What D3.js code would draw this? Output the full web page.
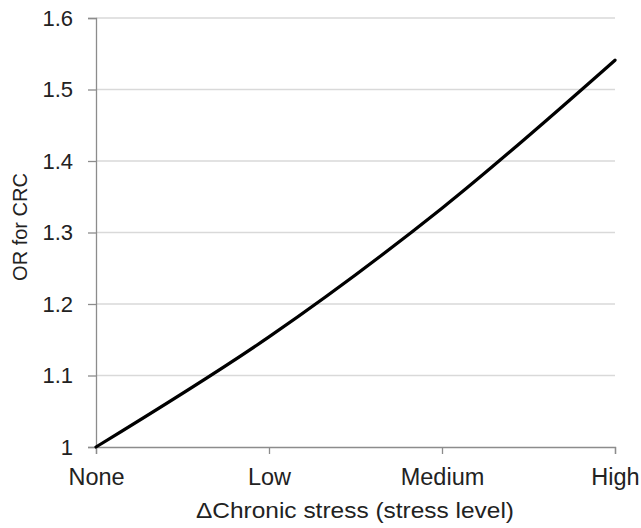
<!DOCTYPE html>
<html><head><meta charset="utf-8">
<script src="https://cdn.jsdelivr.net/npm/d3@7"></script>
<style>body{margin:0;background:#fff}svg{display:block}text{font-family:"Liberation Sans",Arial,sans-serif;fill:#222}</style>
</head><body>
<svg id="c" width="641" height="528"></svg>
<script>
const categories = ["None", "Low", "Medium", "High"];
const orValues = [1.0, 1.154, 1.334, 1.541];
const yTicks = [1, 1.1, 1.2, 1.3, 1.4, 1.5, 1.6];
const xTitle = "\u0394Chronic stress (stress level)";
const yTitle = "OR for CRC";

const svg = d3.select("#c");
const m = {left: 96, right: 26, top: 18, bottom: 81};
const W = 641, H = 528;
const x = d3.scalePoint().domain(categories).range([m.left, W - m.right]);
const y = d3.scaleLinear().domain([1, 1.6]).range([H - m.bottom, m.top]);

// gridlines
svg.append("g").selectAll("line").data(yTicks.slice(1)).join("line")
  .attr("x1", m.left).attr("x2", W - m.right)
  .attr("y1", d => y(d)).attr("y2", d => y(d))
  .attr("stroke", "#d9d9d9").attr("stroke-width", 1.3);

// y axis
const ya = svg.append("g").attr("transform", `translate(${m.left},0)`)
  .call(d3.axisLeft(y).tickValues(yTicks).tickSize(8).tickPadding(15)
    .tickFormat(d => d === 1 ? "1" : d3.format(".1f")(d)));
ya.select(".domain").attr("stroke", "#8c8c8c").attr("stroke-width", 1.3);
ya.selectAll(".tick line").attr("stroke", "#8c8c8c").attr("stroke-width", 1.3);
ya.selectAll("text").attr("font-size", 22).style("font-family", '"Liberation Sans",Arial,sans-serif').attr("fill", "#222");

// x axis
const xa = svg.append("g").attr("transform", `translate(0,${H - m.bottom})`)
  .call(d3.axisBottom(x).tickSize(7).tickPadding(14));
xa.select(".domain").attr("stroke", "#8c8c8c").attr("stroke-width", 1.3);
xa.selectAll(".tick line").attr("stroke", "#8c8c8c").attr("stroke-width", 1.3);
xa.selectAll("text").attr("font-size", 23.5).style("font-family", '"Liberation Sans",Arial,sans-serif').attr("fill", "#222");

// line
const data = categories.map((c, i) => ({c, v: orValues[i]}));
svg.append("path").datum(data)
  .attr("fill", "none").attr("stroke", "#000").attr("stroke-width", 3.2)
  .attr("stroke-linecap", "round")
  .attr("d", d3.line().x(d => x(d.c)).y(d => y(d.v)).curve(d3.curveCatmullRom.alpha(0.5)));

// titles
svg.append("text").attr("x", 355).attr("y", 518).attr("text-anchor", "middle")
  .attr("font-size", 21.5).attr("textLength", 318).attr("lengthAdjust", "spacingAndGlyphs").text(xTitle);
svg.append("text").attr("transform", "translate(27,227) rotate(-90)").attr("text-anchor", "middle")
  .attr("font-size", 20).text(yTitle);
</script>
</body></html>
